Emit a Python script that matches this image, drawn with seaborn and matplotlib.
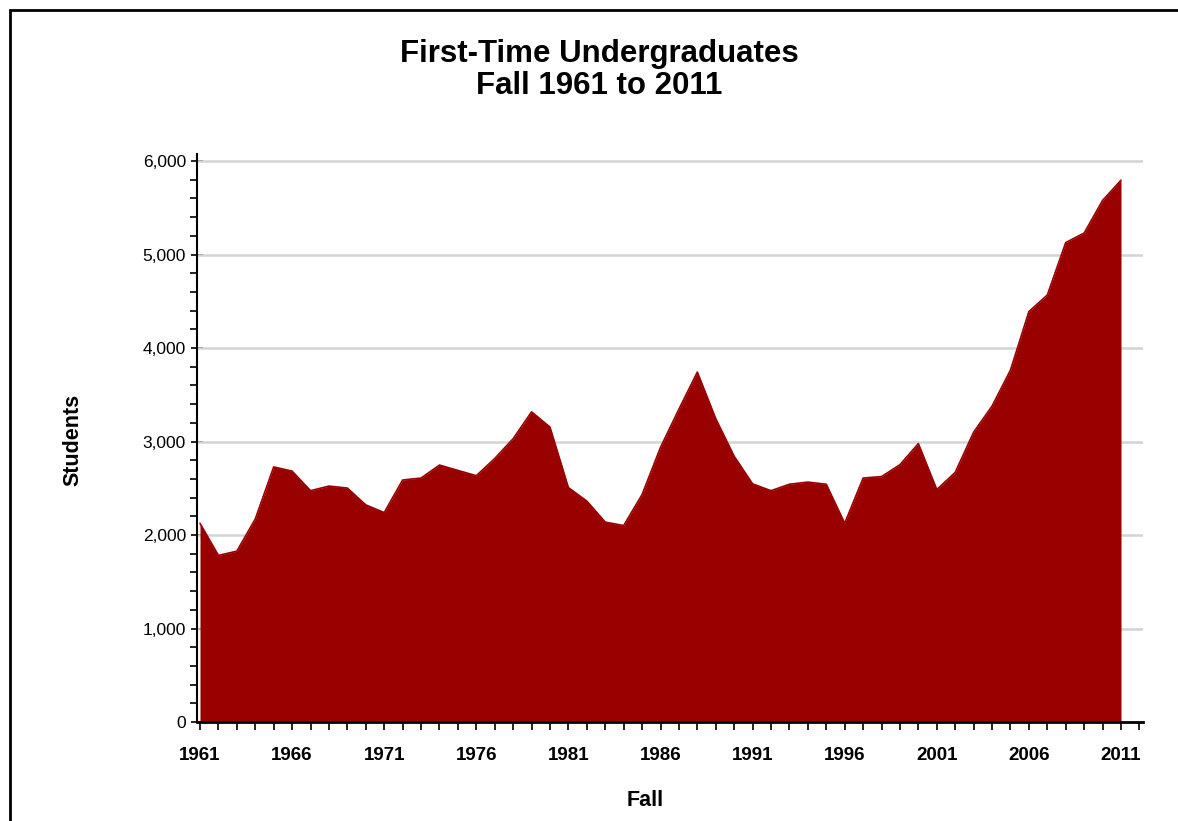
import matplotlib
matplotlib.use("Agg")
import matplotlib.pyplot as plt
from matplotlib.patches import Rectangle
from matplotlib.ticker import MultipleLocator, FuncFormatter
import numpy as np
import pandas as pd
import seaborn as sns

# -----------------------------
# Data
# -----------------------------
years = list(range(1961, 2012))
students = [
    2125, 1782, 1827, 2171, 2728, 2683, 2474, 2523, 2502, 2322,
    2240, 2588, 2609, 2748, 2691, 2634, 2818, 3030, 3317, 3154,
    2507, 2363, 2138, 2101, 2433, 2937, 3346, 3743, 3244, 2842,
    2547, 2474, 2543, 2566, 2543, 2126, 2609, 2625, 2752, 2978,
    2486, 2670, 3100, 3379, 3764, 4390, 4567, 5128, 5230, 5578,
    5795,
]
major_years = [1961, 1966, 1971, 1976, 1981, 1986, 1991, 1996, 2001, 2006, 2011]
y_ticks = [0, 1000, 2000, 3000, 4000, 5000, 6000]

df = pd.DataFrame({"Fall": years, "Students": students})

sns.set_theme(style="white")
plt.rcParams["font.family"] = ["Liberation Sans", "DejaVu Sans"]
plt.rcParams["text.color"] = "black"

fig = plt.figure(figsize=(11.78, 8.21), dpi=100)
ax = fig.add_axes([197 / 1178, 99 / 821, (1143 - 197) / 1178, (722 - 154) / 821])

fill_color = "#990000"
ax.fill_between(df["Fall"], 0, df["Students"], color=fill_color, linewidth=0, zorder=3)
sns.lineplot(data=df, x="Fall", y="Students", color=fill_color, linewidth=1.2, ax=ax, zorder=4)

ax.set_xlim(1961 - 3 / 18.42, 2011 + 22 / 18.42)
ax.set_ylim(0, 6075)

# grid
for v in y_ticks[1:]:
    ax.axhline(v, color="#d4d4d4", linewidth=1.8, zorder=1)

ax.set_yticks(y_ticks)
ax.yaxis.set_minor_locator(MultipleLocator(200))
ax.yaxis.set_major_formatter(FuncFormatter(lambda v, p: f"{int(v):,}"))
ax.set_xticks(major_years)
ax.xaxis.set_minor_locator(MultipleLocator(1))

ax.tick_params(axis="y", which="major", direction="inout", length=8, width=1.2,
               colors="black", labelsize=12.5, pad=4, left=True)
ax.tick_params(axis="y", which="minor", direction="out", length=5, width=1.2,
               colors="black", left=True)
ax.tick_params(axis="x", which="both", direction="out", length=6, width=1.2,
               colors="black", labelsize=13.5, pad=12, bottom=True)
for lab in ax.get_xticklabels():
    lab.set_fontweight("bold")

for side in ["top", "right"]:
    ax.spines[side].set_visible(False)
ax.spines["left"].set_color("black")
ax.spines["left"].set_linewidth(1.5)
ax.spines["bottom"].set_color("black")
ax.spines["bottom"].set_linewidth(2)
ax.spines["left"].set_zorder(5)
ax.spines["bottom"].set_zorder(5)

ax.set_xlabel("")
ax.set_ylabel("")
fig.text(73 / 1178, 1 - 440 / 821, "Students", rotation=90, ha="center", va="center",
         fontsize=15.5, fontweight="bold", color="black")
fig.text(645 / 1178, 1 - 800 / 821, "Fall", ha="center", va="center",
         fontsize=15.5, fontweight="bold", color="black")
fig.text(599 / 1178, 1 - 70 / 821, "First-Time Undergraduates\nFall 1961 to 2011",
         ha="center", va="center", fontsize=22.5, fontweight="bold", linespacing=1.08,
         color="black")

# outer frame
fig.patches.append(Rectangle((10 / 1178, -0.1), 1.2, 1 - 10 / 821 + 0.1,
                             transform=fig.transFigure, fill=False,
                             edgecolor="black", linewidth=2))

fig.savefig("out.png", dpi=100)
